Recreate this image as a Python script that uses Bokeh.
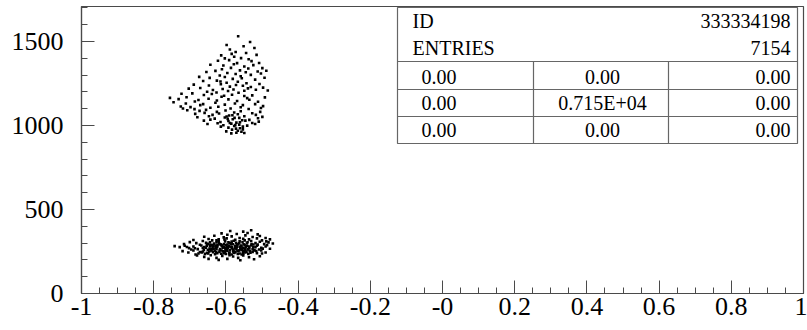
from bokeh.plotting import figure
from bokeh.models import Range1d, FixedTicker
from bokeh.core.properties import value
from bokeh.embed import file_html
from bokeh.resources import INLINE

# ---- scatter data (x, y) ----
upper_cluster = [
    (-0.566, 1531), (-0.598, 1479), (-0.551, 1471), (-0.533, 1497), (-0.521, 1461), (-0.589, 1452),
    (-0.573, 1437), (-0.544, 1431), (-0.613, 1417), (-0.577, 1409), (-0.515, 1420), (-0.558, 1401),
    (-0.537, 1394), (-0.603, 1399), (-0.584, 1426),
    (-0.622, 1385), (-0.591, 1389), (-0.569, 1371), (-0.529, 1383), (-0.508, 1372), (-0.643, 1361),
    (-0.607, 1357), (-0.578, 1364), (-0.549, 1351), (-0.524, 1359), (-0.499, 1341), (-0.611, 1335),
    (-0.586, 1343), (-0.561, 1328), (-0.538, 1339), (-0.512, 1321), (-0.654, 1318), (-0.629, 1325),
    (-0.596, 1312), (-0.573, 1306), (-0.545, 1317), (-0.503, 1309), (-0.617, 1297), (-0.559, 1293),
    (-0.531, 1301), (-0.488, 1326),
    (-0.674, 1289), (-0.645, 1283), (-0.603, 1288), (-0.581, 1277), (-0.556, 1281), (-0.519, 1273),
    (-0.493, 1284), (-0.663, 1265), (-0.625, 1267), (-0.598, 1254), (-0.567, 1260), (-0.543, 1251),
    (-0.507, 1247), (-0.689, 1243), (-0.647, 1238), (-0.614, 1245), (-0.589, 1231), (-0.553, 1236),
    (-0.531, 1229), (-0.497, 1225), (-0.703, 1219), (-0.671, 1223), (-0.636, 1211), (-0.609, 1217),
    (-0.579, 1214), (-0.549, 1207), (-0.517, 1213), (-0.484, 1208), (-0.652, 1201), (-0.626, 1196),
    (-0.594, 1205), (-0.565, 1195), (-0.539, 1221), (-0.615, 1262), (-0.572, 1241),
    (-0.723, 1189), (-0.693, 1191), (-0.661, 1181), (-0.639, 1187), (-0.605, 1177), (-0.583, 1183),
    (-0.549, 1175), (-0.527, 1179), (-0.492, 1167), (-0.755, 1164), (-0.731, 1157), (-0.709, 1168),
    (-0.676, 1152), (-0.648, 1159), (-0.625, 1149), (-0.593, 1155), (-0.569, 1146), (-0.535, 1153),
    (-0.511, 1141), (-0.745, 1138), (-0.711, 1131), (-0.686, 1143), (-0.663, 1127), (-0.629, 1135),
    (-0.603, 1124), (-0.575, 1131), (-0.553, 1121), (-0.519, 1127), (-0.497, 1115), (-0.725, 1113),
    (-0.698, 1109), (-0.671, 1121), (-0.643, 1105), (-0.621, 1111), (-0.587, 1101), (-0.559, 1108),
    (-0.537, 1098), (-0.503, 1104), (-0.719, 1101), (-0.687, 1097), (-0.612, 1171), (-0.541, 1163),
    (-0.707, 1091), (-0.673, 1087), (-0.655, 1093), (-0.625, 1081), (-0.601, 1089), (-0.577, 1077),
    (-0.559, 1085), (-0.527, 1073), (-0.505, 1081), (-0.685, 1069), (-0.659, 1075), (-0.637, 1063),
    (-0.619, 1071), (-0.591, 1059), (-0.567, 1067), (-0.549, 1055), (-0.517, 1063), (-0.499, 1051),
    (-0.679, 1049), (-0.647, 1055), (-0.631, 1041), (-0.603, 1047), (-0.581, 1037), (-0.563, 1045),
    (-0.535, 1033), (-0.511, 1043), (-0.661, 1029), (-0.643, 1035), (-0.615, 1021), (-0.593, 1027),
    (-0.571, 1017), (-0.555, 1031), (-0.527, 1015), (-0.509, 1023), (-0.651, 1009), (-0.623, 1013),
    (-0.607, 1001), (-0.585, 1011), (-0.563, 1005), (-0.541, 999), (-0.519, 1009),
    (-0.614, 993), (-0.593, 987), (-0.577, 997), (-0.561, 983), (-0.583, 975), (-0.567, 969),
    (-0.553, 977), (-0.599, 965), (-0.571, 957), (-0.557, 963), (-0.585, 953), (-0.549, 955),
    (-0.589, 1015), (-0.574, 1002), (-0.561, 1019), (-0.553, 993), (-0.572, 981), (-0.595, 1039),
    (-0.576, 1045), (-0.546, 1029), (-0.598, 1053), (-0.582, 1061),
]

lower_cluster = [
    (-0.588, 372), (-0.552, 368), (-0.530, 376), (-0.612, 358), (-0.570, 354), (-0.540, 360),
    (-0.512, 352), (-0.596, 350),
    (-0.660, 338), (-0.632, 344), (-0.606, 334), (-0.584, 340), (-0.562, 330), (-0.546, 346),
    (-0.526, 336), (-0.506, 342), (-0.490, 330), (-0.648, 324), (-0.620, 322), (-0.598, 328),
    (-0.574, 320), (-0.552, 326), (-0.536, 322), (-0.514, 328), (-0.478, 322),
    (-0.700, 306), (-0.682, 300), (-0.664, 312), (-0.650, 296), (-0.638, 316), (-0.626, 304),
    (-0.614, 292), (-0.602, 310), (-0.590, 300), (-0.578, 314), (-0.566, 294), (-0.554, 306),
    (-0.542, 298), (-0.530, 312), (-0.518, 300), (-0.506, 308), (-0.494, 294), (-0.482, 304),
    (-0.470, 298), (-0.716, 294), (-0.690, 318), (-0.672, 290), (-0.644, 304), (-0.620, 312),
    (-0.596, 292), (-0.572, 302), (-0.548, 316), (-0.524, 292), (-0.500, 316), (-0.488, 310),
    (-0.742, 282), (-0.728, 276), (-0.714, 284), (-0.702, 270), (-0.690, 280), (-0.678, 264),
    (-0.668, 286), (-0.656, 272), (-0.644, 282), (-0.634, 266), (-0.624, 278), (-0.612, 288),
    (-0.602, 270), (-0.592, 282), (-0.580, 262), (-0.570, 276), (-0.558, 286), (-0.548, 268),
    (-0.536, 280), (-0.526, 264), (-0.514, 284), (-0.502, 272), (-0.490, 280), (-0.478, 266),
    (-0.696, 262), (-0.660, 276), (-0.638, 288), (-0.616, 264), (-0.596, 276), (-0.574, 284),
    (-0.552, 272), (-0.530, 286), (-0.508, 262), (-0.486, 288), (-0.650, 260), (-0.628, 270),
    (-0.606, 280), (-0.584, 268), (-0.562, 278), (-0.540, 262), (-0.518, 276),
    (-0.720, 252), (-0.704, 244), (-0.690, 256), (-0.676, 238), (-0.664, 250), (-0.652, 242),
    (-0.640, 256), (-0.630, 234), (-0.618, 248), (-0.606, 240), (-0.596, 254), (-0.584, 232),
    (-0.574, 246), (-0.562, 238), (-0.550, 252), (-0.538, 236), (-0.526, 248), (-0.514, 240),
    (-0.502, 256), (-0.490, 244), (-0.684, 232), (-0.658, 236), (-0.636, 246), (-0.612, 256),
    (-0.590, 244), (-0.568, 252), (-0.546, 244), (-0.522, 256), (-0.500, 238), (-0.646, 250),
    (-0.624, 240), (-0.600, 236), (-0.580, 250), (-0.556, 232), (-0.534, 254),
    (-0.680, 226), (-0.660, 218), (-0.642, 228), (-0.626, 212), (-0.610, 224), (-0.596, 206),
    (-0.580, 220), (-0.566, 212), (-0.552, 226), (-0.536, 216), (-0.522, 204), (-0.648, 206),
    (-0.620, 200), (-0.590, 228), (-0.560, 198), (-0.506, 222),
    (-0.655, 301), (-0.643, 289), (-0.633, 297), (-0.627, 285), (-0.619, 299), (-0.611, 283),
    (-0.605, 295), (-0.599, 287), (-0.593, 305), (-0.587, 279), (-0.581, 293), (-0.575, 271),
    (-0.569, 287), (-0.563, 299), (-0.557, 281), (-0.551, 293), (-0.545, 275), (-0.661, 259),
    (-0.653, 283), (-0.645, 267), (-0.637, 277), (-0.631, 253), (-0.623, 287), (-0.617, 259),
    (-0.609, 273), (-0.603, 249), (-0.597, 265), (-0.589, 257), (-0.583, 277), (-0.577, 241),
    (-0.571, 263), (-0.565, 255), (-0.559, 267), (-0.553, 247), (-0.547, 259), (-0.541, 283),
    (-0.667, 245), (-0.649, 239), (-0.639, 263), (-0.627, 247), (-0.613, 237), (-0.601, 261),
    (-0.591, 239), (-0.579, 259), (-0.567, 235), (-0.555, 261), (-0.543, 249), (-0.535, 271),
    (-0.529, 295), (-0.521, 259),
    (-0.652, 291), (-0.634, 281), (-0.616, 293), (-0.598, 273), (-0.586, 297), (-0.572, 283),
    (-0.560, 271), (-0.548, 289), (-0.538, 263), (-0.524, 277), (-0.512, 291), (-0.498, 267),
    (-0.664, 271), (-0.642, 257), (-0.626, 263), (-0.608, 251), (-0.594, 271), (-0.578, 247),
    (-0.562, 257), (-0.552, 237), (-0.532, 243), (-0.516, 253), (-0.686, 269), (-0.672, 247),
    (-0.708, 277), (-0.626, 317), (-0.604, 321), (-0.584, 309), (-0.562, 311), (-0.540, 305),
]

# ---- axes ----
x_ticks = [-1.0, -0.8, -0.6, -0.4, -0.2, 0.0, 0.2, 0.4, 0.6, 0.8, 1.0]
x_tick_labels = ["-1", "-0.8", "-0.6", "-0.4", "-0.2", "-0", "0.2", "0.4", "0.6", "0.8", "1"]
y_ticks = [0, 500, 1000, 1500]

# ---- statistics box ----
hist_id = "333334198"
entries = "7154"
stats_grid = [
    ["0.00", "0.00", "0.00"],
    ["0.00", "0.715E+04", "0.00"],
    ["0.00", "0.00", "0.00"],
]

W, H = 807, 330
LEFT, RIGHT, TOP, BOTTOM = 81, 4, 6, 37
X0, X1, Y0, Y1 = -1.0, 1.0, 0.0, 1708.0
FONT = "Liberation Serif"
AX = "#4a4a4a"

p = figure(width=W, height=H, x_range=Range1d(X0, X1), y_range=Range1d(Y0, Y1),
           output_backend="svg", toolbar_location=None,
           min_border_left=LEFT, min_border_right=RIGHT,
           min_border_top=TOP, min_border_bottom=BOTTOM)
p.xgrid.visible = False
p.ygrid.visible = False
p.outline_line_color = AX
p.outline_line_width = 1.2
p.background_fill_color = "white"
p.border_fill_color = "white"

p.xaxis.ticker = FixedTicker(ticks=x_ticks,
                             minor_ticks=[round(-1 + 0.05 * i, 2) for i in range(41)])
p.xaxis.major_label_overrides = dict(zip(x_ticks, x_tick_labels))
p.yaxis.ticker = FixedTicker(ticks=y_ticks, minor_ticks=list(range(0, 1701, 100)))

for ax in (p.xaxis[0], p.yaxis[0]):
    ax.axis_line_color = AX
    ax.axis_line_width = 1.2
    ax.major_tick_line_color = AX
    ax.minor_tick_line_color = AX
    ax.major_tick_in = 13
    ax.major_tick_out = 0
    ax.minor_tick_in = 6
    ax.minor_tick_out = 0
    ax.major_label_text_font = FONT
    ax.major_label_text_font_size = "26px"
    ax.major_label_text_color = "black"
p.yaxis.major_label_standoff = 18
p.xaxis.major_label_standoff = 4

# scatter points
p.scatter([pt[0] for pt in upper_cluster], [pt[1] for pt in upper_cluster],
          marker="square", size=2.6, color="black", line_width=0)
p.scatter([pt[0] for pt in lower_cluster], [pt[1] for pt in lower_cluster],
          marker="square", size=2.6, color="black", line_width=0)

# layout helpers: canvas pixel -> data coordinates for the statistics box
fw = W - LEFT - RIGHT
fh = H - TOP - BOTTOM


def dx(px):
    return X0 + (px - LEFT) * (X1 - X0) / fw


def dy(py):
    return Y0 + (H - BOTTOM - py) * (Y1 - Y0) / fh


bx0, bx1, by0, by1 = 397, 797, 7, 143
row_lines = [61, 89, 116]
col_lines = [533, 668]
BOX = "#666666"

p.quad(left=[dx(bx0)], right=[dx(bx1)], top=[dy(by0)], bottom=[dy(by1)],
       fill_color="white", line_color=BOX, line_width=1.2)
p.segment(x0=[dx(bx0)] * 3, x1=[dx(bx1)] * 3,
          y0=[dy(r) for r in row_lines], y1=[dy(r) for r in row_lines],
          line_color=BOX, line_width=1.2)
p.segment(x0=[dx(c) for c in col_lines], x1=[dx(c) for c in col_lines],
          y0=[dy(row_lines[0])] * 2, y1=[dy(by1)] * 2,
          line_color=BOX, line_width=1.2)

txt = dict(text_font=value(FONT), text_font_size="20px", text_color="black",
           text_baseline="middle")
row_mid = [76, 102, 129]

# header rows
p.text(x=[dx(412), dx(412)], y=[dy(20), dy(47)], text=["ID", "ENTRIES"],
       text_align="left", **txt)
p.text(x=[dx(790), dx(790)], y=[dy(20), dy(47)], text=[hist_id, entries],
       text_align="right", **txt)
# 3x3 grid
p.text(x=[dx(421)] * 3, y=[dy(m) for m in row_mid],
       text=[r[0] for r in stats_grid], text_align="left", **txt)
p.text(x=[dx(602)] * 3, y=[dy(m) for m in row_mid],
       text=[r[1] for r in stats_grid], text_align="center", **txt)
p.text(x=[dx(790)] * 3, y=[dy(m) for m in row_mid],
       text=[r[2] for r in stats_grid], text_align="right", **txt)

open("out.html", "w").write(file_html(p, INLINE))
